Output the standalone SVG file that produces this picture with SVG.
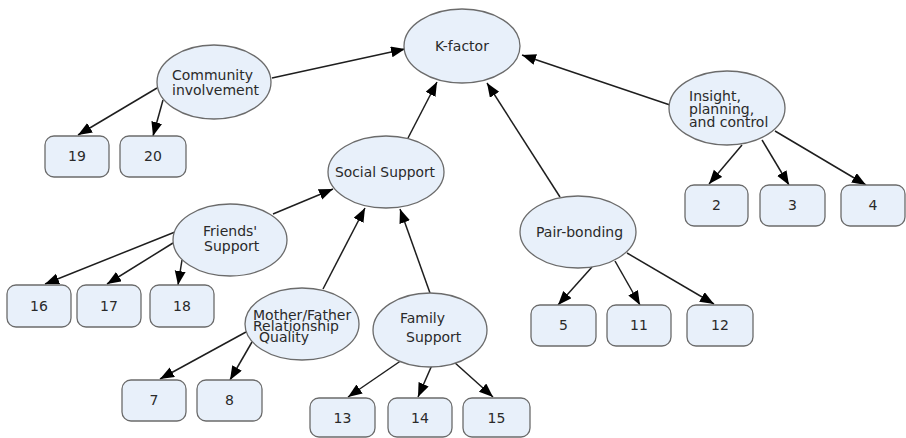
<svg xmlns="http://www.w3.org/2000/svg" width="906" height="438" viewBox="0 0 906 438">
<style>
.n ellipse,.n rect{fill:#e8f0fa;stroke:#6b6b6b;stroke-width:1.3}
text{font-family:"DejaVu Sans","Liberation Sans",sans-serif;font-size:14px;fill:#2a2a2a}
.c{text-anchor:middle}
#edges line{stroke:#1e1e1e;stroke-width:1.5;marker-end:url(#ah)}
</style>
<defs>
<marker id="ah" markerUnits="userSpaceOnUse" markerWidth="15" markerHeight="12" refX="14" refY="5.5" orient="auto" viewBox="0 0 15 12">
<path d="M0,0 L14,5.5 L0,11 z" fill="#000"/>
</marker>
</defs>
<rect width="906" height="438" fill="#fff"/>
<g id="edges">
<line x1="272" y1="78" x2="405" y2="49"/>
<line x1="408" y1="138" x2="437" y2="82"/>
<line x1="670" y1="105" x2="522" y2="55"/>
<line x1="560" y1="197" x2="487" y2="83"/>
<line x1="157" y1="88" x2="78" y2="135"/>
<line x1="163" y1="100" x2="153" y2="136"/>
<line x1="742" y1="145" x2="709" y2="184"/>
<line x1="762" y1="140" x2="789" y2="185"/>
<line x1="775" y1="131" x2="866" y2="185"/>
<line x1="592" y1="267" x2="558" y2="305"/>
<line x1="615" y1="261" x2="640" y2="305"/>
<line x1="627" y1="253" x2="714" y2="304"/>
<line x1="273" y1="214" x2="333" y2="189"/>
<line x1="323" y1="289" x2="365" y2="208"/>
<line x1="430" y1="293" x2="400" y2="209"/>
<line x1="175" y1="232" x2="45" y2="284"/>
<line x1="173" y1="243" x2="107" y2="284"/>
<line x1="182" y1="260" x2="178" y2="285"/>
<line x1="246" y1="332" x2="160" y2="379"/>
<line x1="252" y1="342" x2="230" y2="380"/>
<line x1="402" y1="360" x2="348" y2="397"/>
<line x1="432" y1="365" x2="418" y2="397"/>
<line x1="454" y1="362" x2="493" y2="397"/>
</g>
<g id="kfactor" class="n"><ellipse cx="462" cy="46" rx="58" ry="37"/><text class="c" x="462" y="51">K-factor</text></g>
<g id="community" class="n"><ellipse cx="214" cy="82" rx="57" ry="37"/><text x="172" y="80">Community</text><text x="172" y="95">involvement</text></g>
<g id="social" class="n"><ellipse cx="386" cy="172" rx="58" ry="36"/><text x="335" y="177" textLength="100" lengthAdjust="spacingAndGlyphs">Social Support</text></g>
<g id="insight" class="n"><ellipse cx="727" cy="108" rx="58" ry="37"/><text x="689" y="101">Insight,</text><text x="689" y="114">planning,</text><text x="689" y="127">and control</text></g>
<g id="pair" class="n"><ellipse cx="578" cy="232" rx="58" ry="36"/><text x="536" y="237">Pair-bonding</text></g>
<g id="friends" class="n"><ellipse cx="230" cy="240" rx="57" ry="36"/><text x="203" y="236">Friends'</text><text x="204" y="251">Support</text></g>
<g id="mother" class="n"><ellipse cx="302" cy="324" rx="57" ry="36"/><text x="253" y="320">Mother/Father</text><text x="253" y="331">Relationship</text><text x="259" y="342">Quality</text></g>
<g id="family" class="n"><ellipse cx="430" cy="330" rx="57" ry="37"/><text x="400" y="323">Family</text><text x="406" y="342">Support</text></g>
<g id="b19" class="n"><rect x="45" y="136" width="64" height="41" rx="9"/><text class="c" x="77" y="161">19</text></g>
<g id="b20" class="n"><rect x="120" y="136" width="66" height="41" rx="9"/><text class="c" x="153" y="161">20</text></g>
<g id="b2" class="n"><rect x="685" y="185" width="63" height="41" rx="9"/><text class="c" x="716.5" y="210">2</text></g>
<g id="b3" class="n"><rect x="760" y="185" width="65" height="41" rx="9"/><text class="c" x="792.5" y="210">3</text></g>
<g id="b4" class="n"><rect x="841" y="185" width="64" height="41" rx="9"/><text class="c" x="873" y="210">4</text></g>
<g id="b5" class="n"><rect x="531" y="305" width="65" height="41" rx="9"/><text class="c" x="563.5" y="330">5</text></g>
<g id="b11" class="n"><rect x="607" y="305" width="64" height="41" rx="9"/><text class="c" x="639" y="330">11</text></g>
<g id="b12" class="n"><rect x="687" y="305" width="66" height="41" rx="9"/><text class="c" x="720" y="330">12</text></g>
<g id="b16" class="n"><rect x="7" y="285" width="64" height="42" rx="9"/><text class="c" x="39" y="311">16</text></g>
<g id="b17" class="n"><rect x="77" y="285" width="64" height="42" rx="9"/><text class="c" x="109" y="311">17</text></g>
<g id="b18" class="n"><rect x="150" y="285" width="64" height="42" rx="9"/><text class="c" x="182" y="311">18</text></g>
<g id="b7" class="n"><rect x="122" y="380" width="64" height="41" rx="9"/><text class="c" x="154" y="405">7</text></g>
<g id="b8" class="n"><rect x="197" y="380" width="65" height="41" rx="9"/><text class="c" x="229.5" y="405">8</text></g>
<g id="b13" class="n"><rect x="310" y="398" width="65" height="39" rx="9"/><text class="c" x="342.5" y="423">13</text></g>
<g id="b14" class="n"><rect x="388" y="398" width="64" height="39" rx="9"/><text class="c" x="420" y="423">14</text></g>
<g id="b15" class="n"><rect x="463" y="398" width="67" height="39" rx="9"/><text class="c" x="496.5" y="423">15</text></g>
</svg>
